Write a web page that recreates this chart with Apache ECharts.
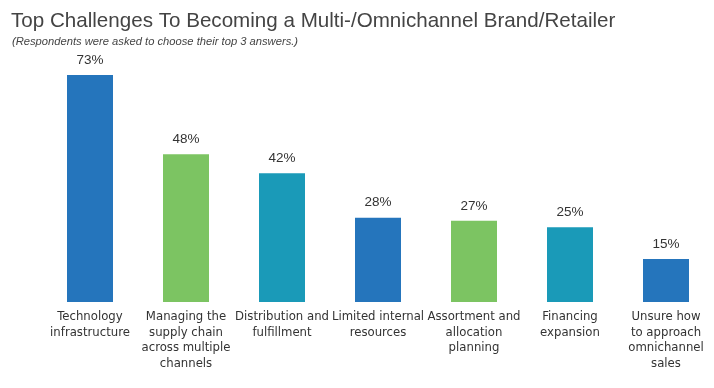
<!DOCTYPE html>
<html><head><meta charset="utf-8">
<script src="https://cdn.jsdelivr.net/npm/echarts@6/dist/echarts.min.js"></script>
<style>html,body{margin:0;padding:0;background:#fff}#c{width:714px;height:388px}</style>
</head><body><div id="c"></div>
<script>
const categories = ["Technology\ninfrastructure","Managing the\nsupply chain\nacross multiple\nchannels","Distribution and\nfulfillment","Limited internal\nresources","Assortment and\nallocation\nplanning","Financing\nexpansion","Unsure how\nto approach\nomnichannel\nsales"];
const values = [73,48,42,28,27,25,15];
const colors = ["#2575bc","#7cc462","#1a9ab8","#2575bc","#7cc462","#1a9ab8","#2575bc"];
const chart = echarts.init(document.getElementById('c'));
chart.setOption({
  animation:false,
  title:[{text:"Top Challenges To Becoming a Multi-/Omnichannel Brand/Retailer",left:6,top:6,textStyle:{fontFamily:"Liberation Sans, Arial",fontWeight:"normal",fontSize:20.6,color:"#444"}},
         {text:"(Respondents were asked to choose their top 3 answers.)",left:7,top:31,textStyle:{fontFamily:"Liberation Sans",fontStyle:"italic",fontWeight:"normal",fontSize:11.2,color:"#444"}}],
  grid:{left:42,width:674,top:75,bottom:86,containLabel:false},
  xAxis:{type:'category',data:categories,axisLine:{show:false},axisTick:{show:false},
    axisLabel:{interval:0,margin:7,fontFamily:"DejaVu Sans Condensed",fontStretch:'condensed',fontSize:13,lineHeight:15.5,color:"#333",align:'center'}},
  yAxis:{type:'value',min:1.4,max:73,show:false,splitLine:{show:false}},
  series:[{type:'bar',barWidth:46,clip:true,data:values.map((v,i)=>({value:v,itemStyle:{color:colors[i]}})),
    label:{show:true,position:'top',distance:8,formatter:'{c}%',fontFamily:"Liberation Sans",fontSize:13.5,color:"#333"}}]
});
</script></body></html>
